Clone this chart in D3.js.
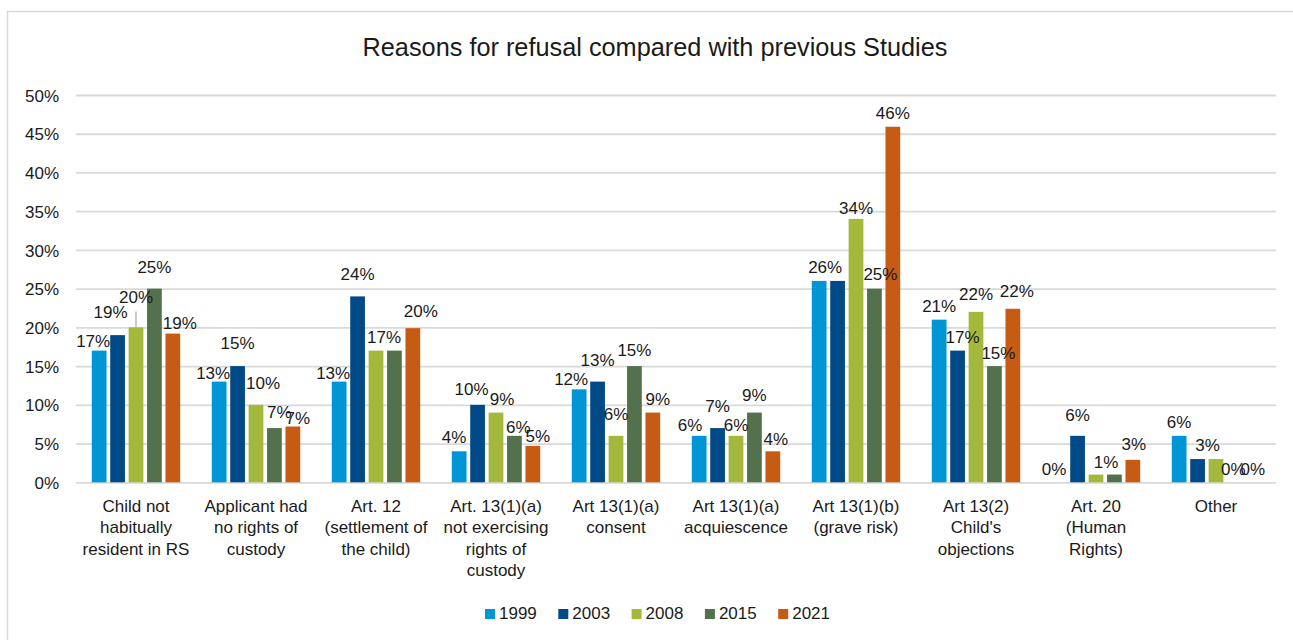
<!DOCTYPE html>
<html>
<head>
<meta charset="utf-8">
<script src="https://cdn.jsdelivr.net/npm/d3@7"></script>
<style>
  body { margin: 0; background: #fff; }
  svg text { font-family: "Liberation Sans", Arial, sans-serif; fill: #1a1a1a; }
</style>
</head>
<body>
<div id="chart"></div>
<script>
// chart values
const categories = [
    ["Child not", "habitually", "resident in RS"],
    ["Applicant had", "no rights of", "custody"],
    ["Art. 12", "(settlement of", "the child)"],
    ["Art. 13(1)(a)", "not exercising", "rights of", "custody"],
    ["Art 13(1)(a)", "consent"],
    ["Art 13(1)(a)", "acquiescence"],
    ["Art 13(1)(b)", "(grave risk)"],
    ["Art 13(2)", "Child's", "objections"],
    ["Art. 20", "(Human", "Rights)"],
    ["Other"]
];
const years = ["1999", "2003", "2008", "2015", "2021"];
const v1999 = [17, 13, 13, 4, 12, 6, 26, 21, 0, 6];
const v2003 = [19, 15, 24, 10, 13, 7, 26, 17, 6, 3];
const v2008 = [20, 10, 17, 9, 6, 6, 34, 22, 1, 3];
const v2015 = [25, 7, 17, 6, 15, 9, 25, 15, 1, 0];
const v2021 = [19.2, 7.2, 19.9, 4.7, 9, 4, 45.9, 22.4, 2.9, 0];
const yTicks = [0, 5, 10, 15, 20, 25, 30, 35, 40, 45, 50];

const colors = ["#0095d5", "#024a87", "#a4b93b", "#53714c", "#c65b13"];

// hand placed data labels (dx, dy from the bar top), like in the original workbook.
// null = label sits exactly under its twin in the original, so only one is drawn
const labelShift = [
    [[-6, -4], [-7, -17], [0, -24], [0, -16], [7, -5]],
    [[-6, -3], [0, -17], [7, -16], [5, -10], [5, -3]],
    [[-6, -3], [0, -16], [8, -8], null, [8, -11]],
    [[-5, -8], [-6, -10], [6, -8], [4, -3], [5, -4]],
    [[-8, -4], [0, -16], [0, -16], [0, -10], [5, -8]],
    [[-9, -5], [0, -16], [0, -5], [0, -12], [3, -6]],
    [[6, -8], null, [0, -5], [6, -9], [0, -8]],
    [[0, -8], [5, -8], [0, -12], [4, -7], [4, -12]],
    [[-5, -7], [0, -15], [10, -7], null, [1, -10]],
    [[0, -8], [10, -8], null, [-1, -7], [0, -7]]
];

const series = [v1999, v2003, v2008, v2015, v2021];
const data = categories.map((c, i) => ({
    idx: i,
    values: years.map((y, j) => ({ year: y, j: j, value: series[j][i] }))
}));

const width = 1293, height = 640;
const margin = { top: 95, left: 76, right: 17 };
const plotBottom = 482.3;

const svg = d3.select("#chart").append("svg")
    .attr("width", width)
    .attr("height", height);

svg.append("rect")
    .attr("x", 7.5).attr("y", 11.5)
    .attr("width", 1400).attr("height", 700)
    .attr("fill", "#fff")
    .attr("stroke", "#d9d9d9")
    .attr("stroke-width", 1.5);

svg.append("text")
    .attr("x", 655)
    .attr("y", 56)
    .attr("text-anchor", "middle")
    .style("font-size", "25.3px")
    .text("Reasons for refusal compared with previous Studies");

let x0 = d3.scaleBand()
    .domain(d3.range(categories.length))
    .range([margin.left, width - margin.right])
    .paddingInner(0.263)
    .paddingOuter(0.1315);

let x1 = d3.scaleBand()
    .domain(d3.range(years.length))
    .range([0, x0.bandwidth()])
    .paddingInner(0.2)
    .paddingOuter(0);

let y = d3.scaleLinear().domain([0, 50]).range([plotBottom, margin.top]);

// gridlines + y labels
let yAxis = d3.axisLeft(y)
    .tickValues(yTicks)
    .tickFormat(d => d + "%")
    .tickSize(-(width - margin.right - margin.left))
    .tickPadding(17);

let gy = svg.append("g")
    .attr("transform", `translate(${margin.left},0)`)
    .call(yAxis);
gy.select(".domain").remove();
gy.selectAll(".tick line").attr("stroke", "#d9d9d9").attr("stroke-width", 1.8);
gy.selectAll(".tick text").style("font-size", "17px").attr("dy", "0.36em");

// category labels
let xAxis = d3.axisBottom(x0).tickSize(0).tickFormat("");
let gx = svg.append("g")
    .attr("transform", `translate(0,${plotBottom})`)
    .call(xAxis);
gx.select(".domain").remove();
gx.selectAll(".tick").each(function (d) {
    let t = d3.select(this).append("text")
        .attr("text-anchor", "middle")
        .style("font-size", "17px");
    categories[d].forEach((line, k) => {
        t.append("tspan").attr("x", 0).attr("y", 29.4 + k * 21.6).text(line);
    });
});

// bars
let groups = svg.selectAll(".grp")
    .data(data)
    .enter().append("g")
    .attr("class", "grp")
    .attr("transform", d => `translate(${x0(d.idx)},0)`);

groups.selectAll("rect")
    .data(d => d.values)
    .enter().append("rect")
    .attr("x", d => x1(d.j))
    .attr("width", x1.bandwidth())
    .attr("y", d => y(d.value))
    .attr("height", d => plotBottom - y(d.value))
    .attr("fill", d => colors[d.j]);

// data labels
groups.each(function (g) {
    let grp = d3.select(this);
    g.values.forEach(d => {
        let s = labelShift[g.idx][d.j];
        if (!s) return;
        let cx = x1(d.j) + x1.bandwidth() / 2;
        let top = y(d.value);
        grp.append("text")
            .attr("x", cx + s[0])
            .attr("y", top + s[1])
            .attr("text-anchor", "middle")
            .style("font-size", "17px")
            .text(Math.round(d.value) + "%");
        // leader line for the label that was pulled away from its bar
        if (s[1] < -20) {
            grp.append("line")
                .attr("x1", cx).attr("x2", cx)
                .attr("y1", top + s[1] + 8).attr("y2", top)
                .attr("stroke", "#a6a6a6")
                .attr("stroke-width", 1.2);
        }
    });
});

// legend
let legend = svg.append("g").attr("transform", "translate(485,609)");
years.forEach((yr, j) => {
    let item = legend.append("g").attr("transform", `translate(${j * 73.3},0)`);
    item.append("rect").attr("width", 10).attr("height", 10).attr("fill", colors[j]);
    item.append("text").attr("x", 14).attr("y", 10).style("font-size", "17px").text(yr);
});
</script>
</body>
</html>
